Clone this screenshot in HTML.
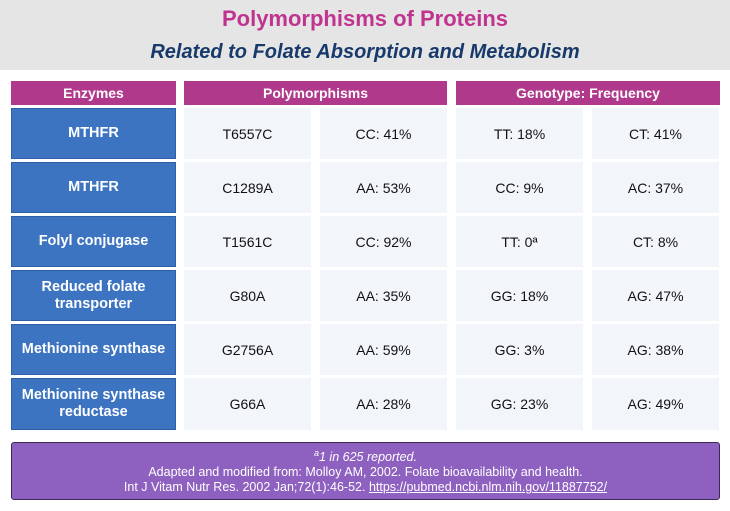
<!DOCTYPE html>
<html><head><meta charset="utf-8"><style>
body{margin:0;width:730px;height:511px;background:#fff;font-family:"Liberation Sans",Arial,sans-serif;position:relative;overflow:hidden}
.top{position:absolute;left:0;top:0;width:730px;height:70px;background:#e5e5e5}
.t1{position:absolute;top:6px;width:730px;text-align:center;color:#c0338f;font-weight:bold;font-size:22px}
.t2{position:absolute;top:41px;width:730px;text-align:center;color:#173a6b;font-weight:bold;font-style:italic;font-size:20px}
.c{position:absolute;display:flex;align-items:center;justify-content:center;text-align:center;box-sizing:border-box}
.h{background:#b0398c;color:#fff;font-weight:bold;font-size:14px;top:81px;height:24px}
.e{background:#3c74c1;color:#fff;font-weight:bold;font-size:14.5px;left:11px;width:165px;border:1px solid #2e5fa6;line-height:17px}
.d{background:#f2f5fa;color:#111;font-size:14px;width:127px}
.foot{position:absolute;left:11px;top:442px;width:709px;height:58px;background:#8e60c0;border:1px solid #3a2a55;border-radius:3px;box-sizing:border-box;color:#fff;font-size:12.5px;text-align:center;line-height:15px;padding-top:3px}
.foot a{color:#fff;text-decoration:underline}
</style></head><body>
<div class="top"></div>
<div class="t1">Polymorphisms of Proteins</div>
<div class="t2">Related to Folate Absorption and Metabolism</div>
<div class="c h" style="left:11px;width:165px">Enzymes</div>
<div class="c h" style="left:184px;width:263px">Polymorphisms</div>
<div class="c h" style="left:456px;width:264px">Genotype: Frequency</div>

<div class="c e" style="top:108px;height:51px">MTHFR</div>
<div class="c d" style="left:184px;top:108px;height:51px">T6557C</div>
<div class="c d" style="left:320px;top:108px;height:51px">CC: 41%</div>
<div class="c d" style="left:456px;top:108px;height:51px">TT: 18%</div>
<div class="c d" style="left:592px;top:108px;height:51px">CT: 41%</div>

<div class="c e" style="top:162px;height:51px">MTHFR</div>
<div class="c d" style="left:184px;top:162px;height:51px">C1289A</div>
<div class="c d" style="left:320px;top:162px;height:51px">AA: 53%</div>
<div class="c d" style="left:456px;top:162px;height:51px">CC: 9%</div>
<div class="c d" style="left:592px;top:162px;height:51px">AC: 37%</div>

<div class="c e" style="top:216px;height:51px">Folyl conjugase</div>
<div class="c d" style="left:184px;top:216px;height:51px">T1561C</div>
<div class="c d" style="left:320px;top:216px;height:51px">CC: 92%</div>
<div class="c d" style="left:456px;top:216px;height:51px">TT: 0ª</div>
<div class="c d" style="left:592px;top:216px;height:51px">CT: 8%</div>

<div class="c e" style="top:270px;height:51px">Reduced folate<br>transporter</div>
<div class="c d" style="left:184px;top:270px;height:51px">G80A</div>
<div class="c d" style="left:320px;top:270px;height:51px">AA: 35%</div>
<div class="c d" style="left:456px;top:270px;height:51px">GG: 18%</div>
<div class="c d" style="left:592px;top:270px;height:51px">AG: 47%</div>

<div class="c e" style="top:324px;height:51px">Methionine synthase</div>
<div class="c d" style="left:184px;top:324px;height:51px">G2756A</div>
<div class="c d" style="left:320px;top:324px;height:51px">AA: 59%</div>
<div class="c d" style="left:456px;top:324px;height:51px">GG: 3%</div>
<div class="c d" style="left:592px;top:324px;height:51px">AG: 38%</div>

<div class="c e" style="top:378px;height:52px">Methionine synthase<br>reductase</div>
<div class="c d" style="left:184px;top:378px;height:52px">G66A</div>
<div class="c d" style="left:320px;top:378px;height:52px">AA: 28%</div>
<div class="c d" style="left:456px;top:378px;height:52px">GG: 23%</div>
<div class="c d" style="left:592px;top:378px;height:52px">AG: 49%</div>

<div class="foot"><i><sup style="font-size:9px">a</sup>1 in 625 reported.</i><br>Adapted and modified from: Molloy AM, 2002. Folate bioavailability and health.<br>Int J Vitam Nutr Res. 2002 Jan;72(1):46-52. <a>https://pubmed.ncbi.nlm.nih.gov/11887752/</a></div>
</body></html>
